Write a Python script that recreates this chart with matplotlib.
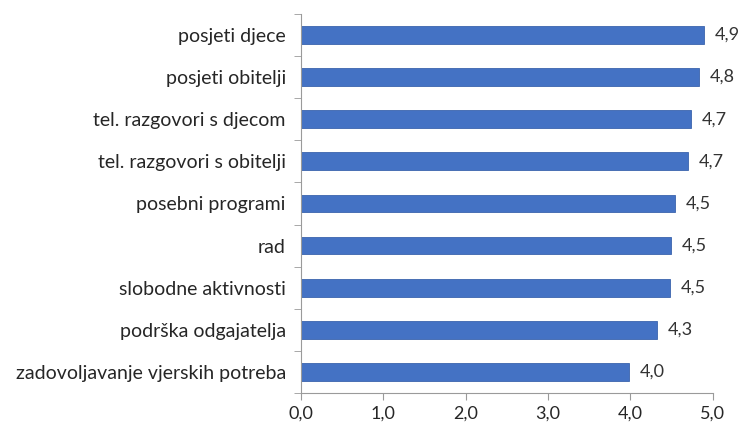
import matplotlib.pyplot as plt
import numpy as np

categories = ['posjeti djece', 'posjeti obitelji', 'tel. razgovori s djecom',
              'tel. razgovori s obitelji', 'posebni programi', 'rad',
              'slobodne aktivnosti', 'podrška odgajatelja',
              'zadovoljavanje vjerskih potreba']
values = [4.89, 4.84, 4.74, 4.70, 4.54, 4.50, 4.48, 4.32, 3.98]
xticks = [0, 1, 2, 3, 4, 5]

plt.rcParams['font.family'] = ['Lato', 'DejaVu Sans']

fig = plt.figure(figsize=(7.47, 4.32), dpi=100)
ax = fig.add_axes([0.403, 0.090, 0.551, 0.878])

y = np.arange(len(categories))
ax.barh(y, values, height=0.42, color='#4472C4', edgecolor='#3B64AD', linewidth=0.6)
ax.set_ylim(len(categories) - 0.5, -0.5)
ax.set_xlim(0, 5)

for yi, v in zip(y, values):
    ax.text(v + 0.13, yi, f'{v:.1f}'.replace('.', ','), va='center', ha='left',
            fontsize=13, color='#333333', clip_on=False)

ax.set_yticks(y)
ax.set_yticklabels(categories, fontsize=14, color='#262626')
ax.set_yticks(np.arange(-0.5, len(categories), 1), minor=True)
ax.tick_params(axis='y', which='major', length=0, pad=11)
ax.tick_params(axis='y', which='minor', length=5, color='#9a9a9a')

ax.set_xticks(xticks)
ax.set_xticklabels([f'{t:.1f}'.replace('.', ',') for t in xticks], fontsize=13, color='#262626')
ax.tick_params(axis='x', length=5, color='#9a9a9a', pad=4)

for s in ['top', 'right']:
    ax.spines[s].set_visible(False)
for s in ['left', 'bottom']:
    ax.spines[s].set_color('#9a9a9a')

fig.savefig('out.png', dpi=100)
